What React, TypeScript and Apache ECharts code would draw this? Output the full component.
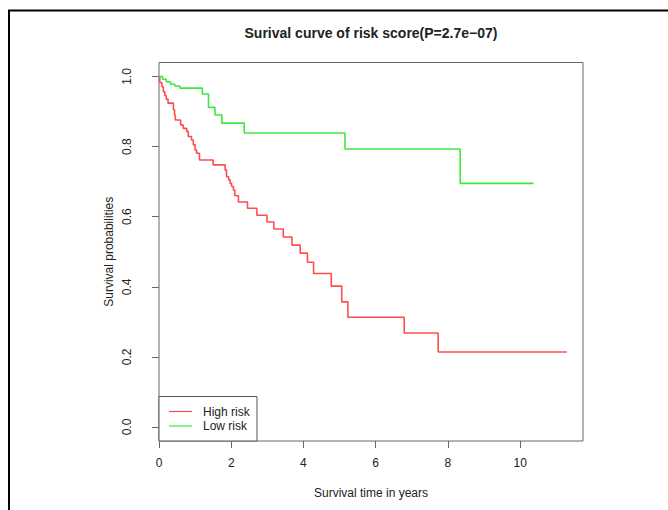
import React, { useEffect, useRef } from "react";
import * as echarts from "echarts";

const chartTitle = "Surival curve of risk score(P=2.7e\u221207)";
const xAxisName = "Survival time in years";
const yAxisName = "Survival probabilities";
const xTicks = [0, 2, 4, 6, 8, 10];
const yTicks = [0, 0.2, 0.4, 0.6, 0.8, 1.0];
const legendNames = ["High risk", "Low risk"];

const highRiskTime = [0, 0.02, 0.08, 0.12, 0.16, 0.2, 0.25, 0.4, 0.43, 0.45, 0.6, 0.67, 0.77, 0.81, 0.9, 0.95, 1.0, 1.04, 1.12, 1.5, 1.83, 1.87, 1.93, 1.97, 2.01, 2.06, 2.1, 2.2, 2.45, 2.71, 2.99, 3.18, 3.44, 3.68, 3.91, 4.11, 4.28, 4.77, 5.06, 5.23, 6.79, 7.73, 11.29];
const highRiskSurv = [1.0, 0.983, 0.971, 0.957, 0.946, 0.935, 0.924, 0.905, 0.89, 0.876, 0.862, 0.852, 0.843, 0.829, 0.819, 0.805, 0.79, 0.781, 0.762, 0.748, 0.733, 0.714, 0.705, 0.695, 0.686, 0.676, 0.66, 0.642, 0.624, 0.604, 0.585, 0.565, 0.542, 0.519, 0.496, 0.47, 0.438, 0.402, 0.357, 0.313, 0.268, 0.214, 0.214];

const lowRiskTime = [0, 0.1, 0.2, 0.32, 0.44, 0.58, 1.2, 1.37, 1.55, 1.74, 2.36, 5.15, 8.34, 10.37];
const lowRiskSurv = [1.0, 0.992, 0.985, 0.978, 0.973, 0.967, 0.95, 0.912, 0.89, 0.867, 0.839, 0.793, 0.695, 0.695];

const redColor = "#ff4d4d";
const greenColor = "#3fe83f";
const FONT = "Liberation Sans, Arial, sans-serif";

function zip(t: number[], s: number[]) {
  return t.map((v, i) => [v, s[i]]);
}

export default function App() {
  const ref = useRef<HTMLDivElement>(null);
  useEffect(() => {
    if (!ref.current) return;
    const chart = echarts.init(ref.current, undefined, { renderer: "svg" });
    const gridLeft = 159;
    const gridTop = 62.5;
    const gridW = 424;
    const gridH = 378.5;
    chart.setOption({
      animation: false,
      backgroundColor: "#ffffff",
      grid: {
        left: gridLeft,
        top: gridTop,
        width: gridW,
        height: gridH,
        show: true,
        borderColor: "#666",
        borderWidth: 1,
        backgroundColor: "transparent",
      },
      xAxis: {
        type: "value",
        min: 0,
        max: 11.74,
        name: xAxisName,
        nameLocation: "middle",
        nameGap: 46,
        nameTextStyle: { fontFamily: FONT, fontSize: 12, color: "#222" },
        axisLine: { show: false, onZero: false },
        splitLine: { show: false },
        axisTick: { show: true, inside: false, length: 7, customValues: xTicks, lineStyle: { color: "#666" } },
        axisLabel: {
          customValues: xTicks,
          margin: 16,
          fontFamily: FONT,
          fontSize: 12,
          color: "#222",
          formatter: (v: number) => String(v),
        },
      },
      yAxis: {
        type: "value",
        min: -0.04,
        max: 1.04,
        name: yAxisName,
        nameLocation: "middle",
        nameGap: 44,
        nameMoveOverlap: false,
        nameRotate: 90,
        nameTextStyle: { fontFamily: FONT, fontSize: 12, color: "#222" },
        axisLine: { show: false, onZero: false },
        splitLine: { show: false },
        axisTick: { show: true, inside: false, length: 7, customValues: yTicks, lineStyle: { color: "#666" } },
        axisLabel: {
          customValues: yTicks,
          rotate: 90,
          margin: 26,
          fontFamily: FONT,
          fontSize: 12,
          color: "#222",
          formatter: (v: number) => v.toFixed(1),
        },
      },
      series: [
        {
          name: legendNames[0],
          type: "line",
          step: "end",
          symbol: "none",
          data: zip(highRiskTime, highRiskSurv),
          lineStyle: { color: redColor, width: 1.6 },
          itemStyle: { color: redColor },
        },
        {
          name: legendNames[1],
          type: "line",
          step: "end",
          symbol: "none",
          data: zip(lowRiskTime, lowRiskSurv),
          lineStyle: { color: greenColor, width: 1.6 },
          itemStyle: { color: greenColor },
        },
      ],
      graphic: [
        {
          type: "text",
          x: gridLeft + gridW / 2,
          y: 33,
          style: {
            text: chartTitle,
            font: `bold 14px ${FONT}`,
            fill: "#222",
            textAlign: "center",
            textVerticalAlign: "middle",
            verticalAlign: "middle",
          },
        },
        { type: "line", shape: { x1: 9, y1: 10, x2: 9, y2: 510 }, style: { stroke: "#000", lineWidth: 2 } },
        { type: "line", shape: { x1: 8, y1: 10.5, x2: 668, y2: 10.5 }, style: { stroke: "#000", lineWidth: 2 } },
        {
          type: "rect",
          shape: { x: 159, y: 396.5, width: 98, height: 44.5 },
          style: { fill: "#fff", stroke: "#555", lineWidth: 1 },
        },
        { type: "line", shape: { x1: 169, y1: 411.5, x2: 192, y2: 411.5 }, style: { stroke: redColor, lineWidth: 1.2 } },
        { type: "line", shape: { x1: 169, y1: 426, x2: 192, y2: 426 }, style: { stroke: greenColor, lineWidth: 1.2 } },
        {
          type: "text",
          x: 203,
          y: 411.5,
          style: { text: legendNames[0], font: `12px ${FONT}`, fill: "#222", verticalAlign: "middle" },
        },
        {
          type: "text",
          x: 203,
          y: 426,
          style: { text: legendNames[1], font: `12px ${FONT}`, fill: "#222", verticalAlign: "middle" },
        },
      ],
    });
    return () => chart.dispose();
  }, []);
  return (
    <div
      ref={ref}
      style={{ position: "fixed", left: 0, top: 0, width: 668, height: 510, background: "#fff" }}
    />
  );
}
